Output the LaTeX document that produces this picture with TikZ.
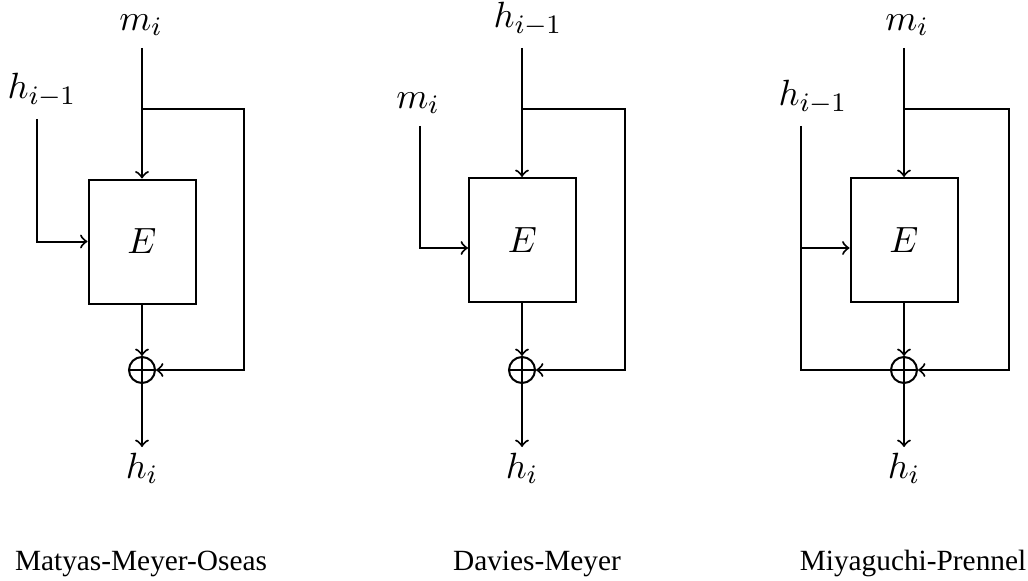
\documentclass[tikz,border=0pt]{standalone}
\usepackage{fontspec}
\newfontfamily\captfont{Liberation Serif}
\begin{document}
\begin{tikzpicture}[x=0.3pt,y=-0.3pt,line width=0.6pt,font=\fontsize{11}{13}\selectfont,
  blk/.style={draw,minimum width=32.1pt,minimum height=37.2pt,inner sep=0pt},
  xorn/.style={draw,circle,minimum size=7.8pt,inner sep=0pt,
    path picture={\draw (path picture bounding box.north) -- (path picture bounding box.south)
      (path picture bounding box.west) -- (path picture bounding box.east);}},
  inlbl/.style={above},
  outlbl/.style={below,inner sep=1.5pt},
  capt/.style={anchor=base,font=\captfont\fontsize{8.8}{10}\selectfont}]
\useasboundingbox (0,0) rectangle (1028,581);
% Matyas-Meyer-Oseas
\node[blk] (E1) at (142,241.5) {$E$};
\node[xorn] (x1) at (142,370) {};
\coordinate (t1) at (142,48);
\coordinate (b1) at (142,109);
\coordinate (c1) at (244,370);
\coordinate (l1) at (37,119);
\coordinate (o1) at (142,447);
\node[inlbl] (m1) at (141,48) {$m_i$};
\node[inlbl] (h1) at (42,119) {$h_{i-1}$};
\node[outlbl] (hh1) at (o1) {$h_i$};
\draw[->] (t1) -- (E1);
\draw[->] (b1) -| (c1) -- (x1);
\draw[->] (l1) |- (E1);
\draw[->] (E1) -- (x1);
\draw[->] (x1) -- (o1);
\node[capt] (n1) at (141,570) {Matyas-Meyer-Oseas};
% Davies-Meyer
\node[blk] (E2) at (522.5,240) {$E$};
\node[xorn] (x2) at (522,370) {};
\coordinate (t2) at (522,48);
\coordinate (b2) at (522,109);
\coordinate (c2) at (625,370);
\coordinate (l2) at (420,126);
\coordinate (o2) at (522,447);
\node[inlbl] (h2) at (528,48) {$h_{i-1}$};
\node[inlbl] (m2) at (418,126) {$m_i$};
\node[outlbl] (hh2) at (o2) {$h_i$};
\draw[->] (t2) -- (t2 |- E2.north);
\draw[->] (b2) -| (c2) -- (x2);
\draw[->] (l2) |- ([yshift=-2.4pt]E2.west);
\draw[->] (E2.south -| x2) -- (x2);
\draw[->] (x2) -- (o2);
\node[capt] (n2) at (537,570) {Davies-Meyer};
% Miyaguchi-Prennel
\node[blk] (E3) at (904,240) {$E$};
\node[xorn] (x3) at (904,370) {};
\coordinate (t3) at (904,48);
\coordinate (b3) at (904,109);
\coordinate (c3) at (1009,370);
\coordinate (l3) at (801,126);
\coordinate (j3) at (801,248);
\coordinate (o3) at (904,447);
\node[inlbl] (m3) at (907,48) {$m_i$};
\node[inlbl] (h3) at (813,126) {$h_{i-1}$};
\node[outlbl] (hh3) at (o3) {$h_i$};
\draw[->] (t3) -- (E3);
\draw[->] (b3) -| (c3) -- (x3);
\draw (l3) |- (x3);
\draw[->] (j3) -- (j3 -| E3.west);
\draw[->] (E3) -- (x3);
\draw[->] (x3) -- (o3);
\node[capt] (n3) at (913,570) {Miyaguchi-Prennel};
\end{tikzpicture}
\end{document}
